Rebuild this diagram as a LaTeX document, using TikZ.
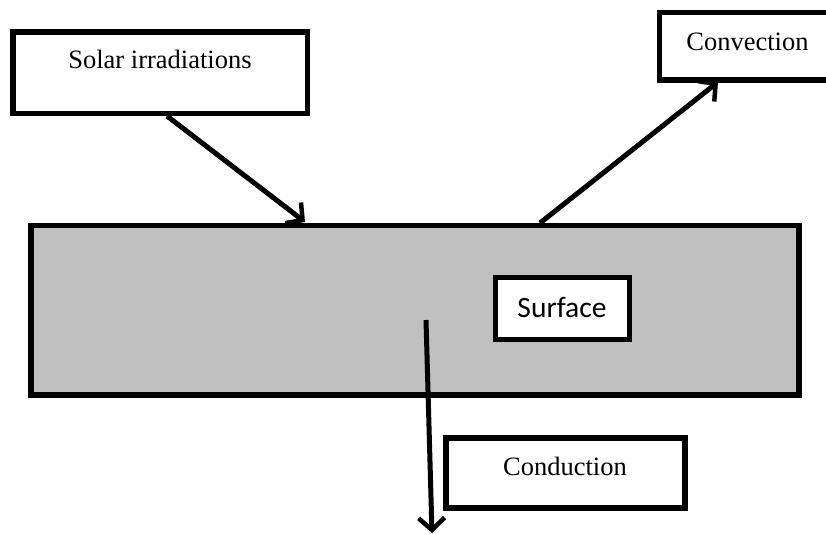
\documentclass[tikz,border=0pt]{standalone}
\usepackage{fontspec}
\setmainfont{Liberation Serif}
\newfontfamily\calib{Carlito}
\usetikzlibrary{arrows.meta}
\begin{document}
\begin{tikzpicture}[x=1pt,y=-1pt,
  boxline/.style={draw=black,line width=5.5pt},
  lbl/.style={anchor=base,inner sep=0pt,font=\fontsize{26.5}{30}\selectfont},
  flow/.style={draw=black,line width=5pt,-{Straight Barb[length=12pt,width=26pt,line width=4.5pt]}}]
\useasboundingbox (0,0) rectangle (826,534);
\fill[white] (0,0) rectangle (826,534);
% surface slab
\path[boxline,fill={rgb,255:red,192;green,192;blue,192}] (31,225.5) rectangle (799,395);
% boxes
\path[boxline,fill=white] (13,32) rectangle (307.5,113.5);
\path[boxline,fill=white] (659.5,12.5) rectangle (840,80);
\path[boxline,fill=white] (495.5,277.5) rectangle (629.5,339.5);
\path[boxline,fill=white] (446,438) rectangle (685,508);
% labels
\node[lbl] (solar) at (160,69) {Solar irradiations};
\node[lbl] (conv) at (747.5,50.5) {Convection};
\node[lbl] (cond) at (565,475) {Conduction};
\node[lbl,font=\calib\fontsize{29.5}{32}\selectfont] (surf) at (562,317) {Surface};
% arrow ends
\coordinate (a1) at (167,116);
\coordinate (a2) at (305,222);
\coordinate (b1) at (540,223);
\coordinate (b2) at (718,82);
\coordinate (c1) at (426,320);
\coordinate (c2) at (432,533);
\draw[flow] (a1) -- (a2);
\draw[flow] (b1) -- (b2);
\draw[flow] (c1) -- (c2);
\end{tikzpicture}
\end{document}
